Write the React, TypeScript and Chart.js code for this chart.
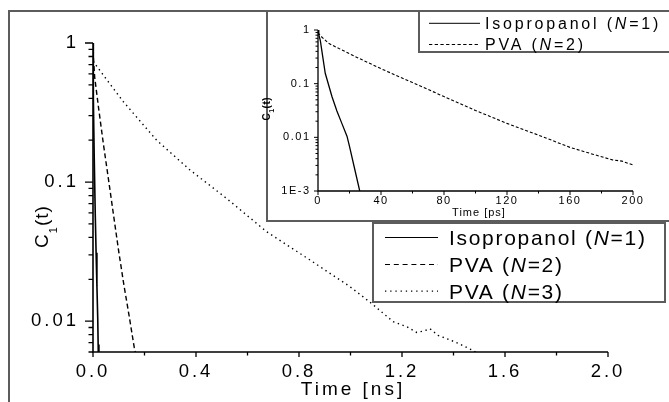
import React, { useEffect, useRef } from "react";
import { Chart, registerables } from "chart.js";

Chart.register(...registerables);

const FONT = "'Liberation Sans', Arial, Helvetica, sans-serif";

// Isopropanol, N = 1 — time in ps
const isoTimePs = [0, 0.5, 1, 1.5, 2.5, 4.6, 8.9, 12, 15.2, 18.4, 20, 23, 26.5];
const isoC1 = [1, 0.82, 0.72, 0.63, 0.4, 0.156, 0.057, 0.031, 0.018, 0.0105, 0.0068, 0.0028, 0.001];

// PVA, N = 2 — time in ps
const pva2TimePs = [0, 2, 6.7, 21.6, 40, 60, 80, 100, 120, 140, 160, 175, 187, 193, 200];
const pva2C1 = [0.89, 0.76, 0.565, 0.342, 0.19, 0.105, 0.0575, 0.0316, 0.0182, 0.011, 0.0065, 0.0048, 0.0038, 0.0036, 0.00305];

// PVA, N = 3 — time in ns
const pva3TimeNs = [0, 0.02, 0.05, 0.118, 0.247, 0.377, 0.52, 0.674, 0.843, 0.998, 1.082, 1.166, 1.22, 1.257, 1.285, 1.309, 1.34, 1.373, 1.42, 1.464, 1.5];
const pva3C1 = [0.74, 0.66, 0.555, 0.378, 0.2, 0.122, 0.076, 0.044, 0.0275, 0.0177, 0.0134, 0.0099, 0.0091, 0.0083, 0.0085, 0.0088, 0.0079, 0.0075, 0.0069, 0.0063, 0.0058];

// legend entries
const mainSeriesNames = ["Isopropanol", "PVA", "PVA"];
const mainSeriesN = [1, 2, 3];
const insetSeriesNames = ["Isopropanol", "PVA"];
const insetSeriesN = [1, 2];

// decade tick labels, from the lowest decade upward
const mainYTickLabels = ["0.01", "0.1", "1"];
const mainYLowestExp = -2;
const insetYTickLabels = ["1E-3", "0.01", "0.1", "1"];
const insetYLowestExp = -3;

const mainXTitle = "Time [ns]";
const insetXTitle = "Time [ps]";

type Seg = { t: string; it?: boolean; size?: number; dy?: number };

function drawSegs(ctx: any, segs: Seg[], x: number, y: number, size: number, spacing: number, align: string, weight = "") {
  ctx.save();
  ctx.textAlign = "left";
  ctx.textBaseline = "alphabetic";
  ctx.fillStyle = "#000";
  ctx.letterSpacing = spacing + "px";
  const fontOf = (s: Seg) => `${s.it ? "italic " : ""}${weight}${s.size ?? size}px ${FONT}`;
  let total = 0;
  for (const s of segs) {
    ctx.font = fontOf(s);
    total += ctx.measureText(s.t).width;
  }
  total -= spacing;
  let cx = align === "left" ? x : align === "center" ? x - total / 2 : x - total;
  for (const s of segs) {
    ctx.font = fontOf(s);
    ctx.fillText(s.t, cx, y + (s.dy ?? 0));
    cx += ctx.measureText(s.t).width;
  }
  ctx.restore();
}

function legendSegs(name: string, n: number): Seg[] {
  return [{ t: name + " (" }, { t: "N", it: true }, { t: "=" + n + ")" }];
}

function isDecadeMultiple(v: number) {
  const e = Math.floor(Math.log10(v) + 1e-9);
  const m = v / Math.pow(10, e);
  return Math.abs(m - Math.round(m)) < 1e-6;
}

function decadeLabel(v: number, labels: string[], lowest: number) {
  const e = Math.log10(v);
  if (Math.abs(e - Math.round(e)) > 1e-6) return "";
  return labels[Math.round(e) - lowest] ?? "";
}

function drawAxes(chart: any, o: any) {
  const { ctx, chartArea: a } = chart;
  const xs = chart.scales.x;
  const ys = chart.scales.y;
  ctx.save();
  ctx.strokeStyle = "#000";
  ctx.lineWidth = o.axisWidth;
  ctx.beginPath();
  ctx.moveTo(a.left, a.top);
  ctx.lineTo(a.left, a.bottom);
  ctx.lineTo(a.right, a.bottom);
  ctx.stroke();
  ctx.lineWidth = o.tickWidth;
  ctx.beginPath();
  for (const t of xs.ticks) {
    const px = xs.getPixelForValue(t.value);
    const len = t.label ? o.xMajor : o.xMinor;
    ctx.moveTo(px, a.bottom);
    ctx.lineTo(px, a.bottom + len);
  }
  for (const t of ys.ticks) {
    const py = ys.getPixelForValue(t.value);
    const len = t.label ? o.yMajor : o.yMinor;
    ctx.moveTo(a.left, py);
    ctx.lineTo(a.left - len, py);
  }
  ctx.stroke();
  ctx.restore();
}

function sampleLine(ctx: any, x0: number, x1: number, y: number, dash: number[], width: number) {
  ctx.save();
  ctx.strokeStyle = "#000";
  ctx.lineWidth = width;
  ctx.setLineDash(dash);
  ctx.beginPath();
  ctx.moveTo(x0, y);
  ctx.lineTo(x1, y);
  ctx.stroke();
  ctx.restore();
}

const FRAME = "#5c5c5c";

const mainDecor = {
  id: "mainDecor",
  beforeDraw(chart: any) {
    const ctx = chart.ctx;
    ctx.letterSpacing = "3px";
    ctx.save();
    ctx.strokeStyle = FRAME;
    ctx.lineWidth = 2;
    ctx.beginPath();
    ctx.moveTo(9, 402);
    ctx.lineTo(9, 11);
    ctx.lineTo(669, 11);
    ctx.stroke();
    ctx.restore();
  },
  afterDraw(chart: any) {
    const ctx = chart.ctx;
    const a = chart.chartArea;
    drawAxes(chart, { axisWidth: 1.6, tickWidth: 1.3, xMajor: 5, xMinor: 3.5, yMajor: 8, yMinor: 4.5 });

    // axis titles
    drawSegs(ctx, [{ t: mainXTitle }], (a.left + a.right) / 2 + 1, 388.5 + 0.358 * 19, 19, 3, "center");
    ctx.save();
    ctx.translate(41, 227);
    ctx.rotate(-Math.PI / 2);
    drawSegs(ctx, [{ t: "C" }, { t: "1", size: 11, dy: 9 }, { t: "(t)" }], 0, 0.358 * 19, 19, 1, "center");
    ctx.restore();

    // legend
    ctx.save();
    ctx.fillStyle = "#fff";
    ctx.fillRect(373, 223, 292, 79);
    ctx.strokeStyle = FRAME;
    ctx.lineWidth = 2;
    ctx.strokeRect(373, 223, 292, 79);
    ctx.restore();
    const rows = [237.5, 264.5, 291.2];
    const dashes = [[], [5, 3.8], [1.3, 3.9]];
    mainSeriesNames.forEach((name, i) => {
      sampleLine(ctx, 385, 438, rows[i], dashes[i], 1.2);
      drawSegs(ctx, legendSegs(name, mainSeriesN[i]), 449, rows[i] + 0.358 * 21, 21, 1.7, "left");
    });
  },
};

const insetDecor = {
  id: "insetDecor",
  beforeDraw(chart: any) {
    chart.ctx.letterSpacing = "1.5px";
  },
  afterDraw(chart: any) {
    const ctx = chart.ctx;
    const a = chart.chartArea;
    drawAxes(chart, { axisWidth: 1.3, tickWidth: 1, xMajor: 4, xMinor: 2.5, yMajor: 4, yMinor: 2.5 });

    // box edges
    ctx.save();
    ctx.strokeStyle = FRAME;
    ctx.lineWidth = 2;
    ctx.beginPath();
    ctx.moveTo(11, 0);
    ctx.lineTo(11, 209);
    ctx.lineTo(413, 209);
    ctx.stroke();
    ctx.restore();

    drawSegs(ctx, [{ t: insetXTitle }], (a.left + a.right) / 2 + 3, 200.5 + 0.358 * 11, 11, 1, "center");
    ctx.save();
    ctx.translate(10, 97);
    ctx.rotate(-Math.PI / 2);
    drawSegs(ctx, [{ t: "C" }, { t: "1", size: 7, dy: 4 }, { t: "(t)" }], 0, 0.358 * 10, 10, 0.5, "center", "bold ");
    ctx.restore();

    // legend
    ctx.save();
    ctx.fillStyle = "#fff";
    ctx.fillRect(163, 0, 250, 40);
    ctx.strokeStyle = FRAME;
    ctx.lineWidth = 2;
    ctx.beginPath();
    ctx.moveTo(163, 0);
    ctx.lineTo(163, 40);
    ctx.lineTo(413, 40);
    ctx.stroke();
    ctx.restore();
    const rows = [11.3, 32.5];
    const dashes = [[], [3.3, 2.4]];
    insetSeriesNames.forEach((name, i) => {
      sampleLine(ctx, 173, 224, rows[i], dashes[i], 1);
      drawSegs(ctx, legendSegs(name, insetSeriesN[i]), 229, rows[i] + 0.358 * 16, 16, 2.8, "left");
    });
  },
};

function lineSet(xs: number[], ys: number[], dash: number[], width: number, scaleX = 1) {
  return {
    data: xs.map((t, i) => ({ x: t * scaleX, y: ys[i] })),
    borderColor: "#000",
    borderWidth: width,
    borderDash: dash,
    pointRadius: 0,
    tension: 0,
    fill: false,
  };
}

function axisX(min: number, max: number, step: number, decimals: number, size: number, padding: number, height: number) {
  return {
    type: "linear",
    min,
    max,
    grid: { display: false, drawTicks: false, tickLength: 0 },
    border: { display: false },
    ticks: {
      stepSize: step,
      autoSkip: false,
      maxRotation: 0,
      padding,
      color: "#000",
      font: { family: FONT, size },
      callback: (v: any, i: number) => (i % 2 === 0 ? Number(v).toFixed(decimals) : ""),
    },
    afterFit: (s: any) => {
      s.height = height;
    },
  };
}

function axisY(min: number, max: number, labels: string[], lowest: number, size: number, padding: number, width: number) {
  return {
    type: "logarithmic",
    min,
    max,
    grid: { display: false, drawTicks: false, tickLength: 0 },
    border: { display: false },
    afterBuildTicks: (s: any) => {
      s.ticks = s.ticks.filter((t: any) => isDecadeMultiple(t.value));
    },
    ticks: {
      autoSkip: false,
      padding,
      color: "#000",
      font: { family: FONT, size },
      callback: (v: any) => decadeLabel(Number(v), labels, lowest),
    },
    afterFit: (s: any) => {
      s.width = width;
    },
  };
}

export default function App() {
  const mainRef = useRef<HTMLCanvasElement>(null);
  const insetRef = useRef<HTMLCanvasElement>(null);

  useEffect(() => {
    const main = new Chart(mainRef.current as HTMLCanvasElement, {
      type: "line",
      data: {
        datasets: [
          lineSet(isoTimePs, isoC1, [], 1.6, 0.001),
          lineSet(pva2TimePs, pva2C1, [5, 3], 1.4, 0.001),
          lineSet(pva3TimeNs, pva3C1, [1.4, 3.6], 1.4),
        ] as any,
      },
      options: {
        responsive: false,
        animation: false,
        devicePixelRatio: 1,
        layout: { padding: { left: 0, right: 61, top: 43, bottom: 0 } },
        plugins: { legend: { display: false }, tooltip: { enabled: false } },
        scales: {
          x: axisX(0, 2, 0.2, 1, 18.5, 8.5, 50) as any,
          y: axisY(0.006, 1, mainYTickLabels, mainYLowestExp, 18.5, 14, 93) as any,
        },
      },
      plugins: [mainDecor as any],
    });

    const inset = new Chart(insetRef.current as HTMLCanvasElement, {
      type: "line",
      data: {
        datasets: [
          lineSet(isoTimePs, isoC1, [], 1.3),
          lineSet(pva2TimePs, pva2C1, [3, 2], 1.1),
        ] as any,
      },
      options: {
        responsive: false,
        animation: false,
        devicePixelRatio: 1,
        layout: { padding: { left: 0, right: 36, top: 18, bottom: 0 } },
        plugins: { legend: { display: false }, tooltip: { enabled: false } },
        scales: {
          x: axisX(0, 200, 20, 0, 11, 3, 31) as any,
          y: axisY(0.001, 1, insetYTickLabels, insetYLowestExp, 11, 7.5, 62) as any,
        },
      },
      plugins: [insetDecor as any],
    });

    return () => {
      main.destroy();
      inset.destroy();
    };
  }, []);

  return (
    <div style={{ position: "fixed", left: 0, top: 0, width: 669, height: 402, background: "#fff", overflow: "hidden" }}>
      <canvas ref={mainRef} width={669} height={402} style={{ position: "absolute", left: 0, top: 0 }} />
      <canvas ref={insetRef} width={413} height={210} style={{ position: "absolute", left: 256, top: 12, background: "#fff" }} />
    </div>
  );
}
